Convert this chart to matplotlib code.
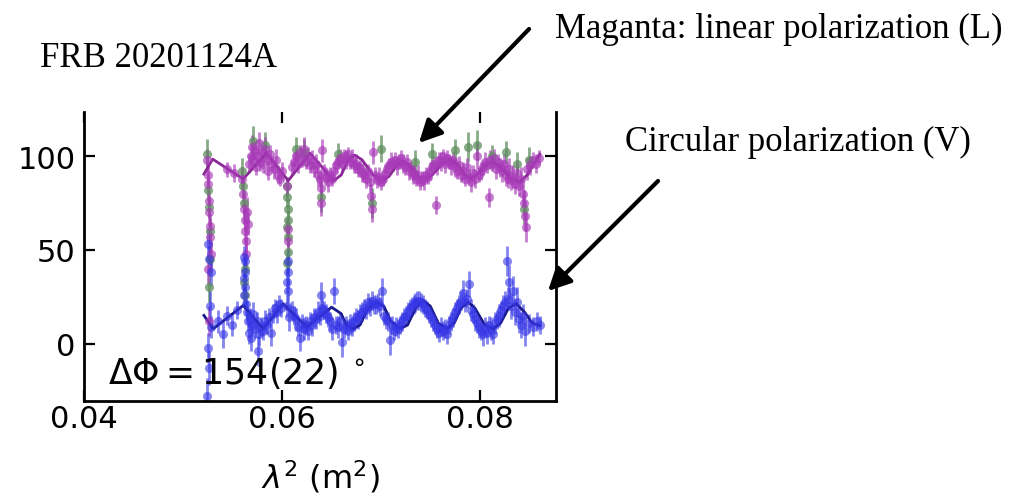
import numpy as np
import matplotlib
matplotlib.use('Agg')
import matplotlib.pyplot as plt
from matplotlib.patches import FancyArrowPatch

# (lambda^2 [m^2], percent, error)
L_points = [
    (0.0524, 98, 6), (0.0525, 90, 5), (0.0525, 85, 6), (0.0526, 76, 6), (0.0526, 70, 7),
    (0.0527, 63, 6), (0.0527, 57, 8), (0.0528, 48, 7), (0.0525, 40, 8), (0.0526, 12, 8),
    (0.0545, 93, 4), (0.0552, 91, 5),
    (0.0560, 88, 6), (0.0561, 80, 7), (0.0562, 72, 8), (0.0563, 66, 6), (0.0563, 60, 7),
    (0.0564, 55, 8), (0.0565, 70, 8), (0.0566, 64, 6), (0.0564, 48, 9),
    (0.0567, 96, 5), (0.0569, 100, 6), (0.0570, 105, 6), (0.0571, 98, 4), (0.0573, 103, 5),
    (0.0574, 94, 4), (0.0575, 100, 5), (0.0577, 107, 6), (0.0578, 97, 5), (0.0580, 102, 4),
    (0.0581, 96, 5), (0.0583, 104, 6), (0.0585, 99, 4), (0.0586, 92, 5), (0.0588, 101, 5),
    (0.0590, 96, 4), (0.0592, 93, 5), (0.0594, 98, 6), (0.0596, 90, 5), (0.0598, 88, 4),
    (0.0600, 92, 5),
    (0.0605, 84, 5), (0.0606, 61, 6), (0.0606, 55, 6),
    (0.0610, 94, 4), (0.0612, 97, 5), (0.0614, 100, 4), (0.0616, 96, 5), (0.0618, 102, 4),
    (0.0620, 99, 5), (0.0622, 104, 6), (0.0624, 97, 4), (0.0626, 100, 5), (0.0628, 95, 4),
    (0.0630, 98, 5), (0.0632, 93, 4), (0.0634, 96, 5), (0.0636, 90, 6), (0.0638, 88, 4),
    (0.0640, 83, 6), (0.0640, 75, 7), (0.0641, 103, 6), (0.0643, 92, 4),
    (0.0645, 89, 4), (0.0647, 86, 5), (0.0649, 90, 4), (0.0651, 88, 4), (0.0653, 92, 5),
    (0.0655, 95, 4), (0.0657, 97, 4), (0.0659, 99, 5), (0.0661, 96, 4), (0.0663, 100, 4),
    (0.0665, 98, 5), (0.0667, 101, 4), (0.0669, 97, 4), (0.0671, 99, 5), (0.0673, 95, 4),
    (0.0675, 96, 5), (0.0677, 93, 4), (0.0679, 94, 4), (0.0681, 91, 5), (0.0683, 90, 4),
    (0.0685, 88, 5), (0.0687, 92, 4), (0.0689, 86, 5), (0.0690, 79, 6), (0.0691, 72, 7),
    (0.0692, 102, 6), (0.0694, 90, 4), (0.0696, 87, 4), (0.0698, 89, 5),
    (0.0700, 86, 4), (0.0702, 88, 4), (0.0704, 91, 5), (0.0706, 93, 4), (0.0708, 95, 4),
    (0.0710, 97, 5), (0.0712, 96, 4), (0.0714, 98, 4), (0.0716, 95, 5), (0.0718, 97, 4),
    (0.0720, 99, 4), (0.0722, 96, 5), (0.0724, 94, 4), (0.0726, 97, 4), (0.0728, 92, 5),
    (0.0730, 93, 4), (0.0732, 90, 5), (0.0734, 91, 4), (0.0736, 88, 4), (0.0738, 90, 5),
    (0.0740, 86, 4), (0.0742, 88, 4), (0.0744, 87, 5), (0.0746, 90, 4), (0.0748, 89, 4),
    (0.0750, 92, 5), (0.0752, 94, 4), (0.0754, 96, 4), (0.0756, 74, 5), (0.0757, 95, 5),
    (0.0759, 98, 4), (0.0761, 97, 5), (0.0763, 100, 4), (0.0765, 96, 5), (0.0767, 99, 4),
    (0.0769, 97, 4), (0.0771, 95, 5), (0.0773, 98, 4), (0.0775, 94, 5), (0.0777, 92, 4),
    (0.0779, 95, 5), (0.0781, 90, 4), (0.0783, 92, 5), (0.0785, 88, 4), (0.0787, 94, 5),
    (0.0789, 89, 4), (0.0791, 86, 5), (0.0793, 91, 4), (0.0795, 88, 5), (0.0797, 100, 7),
    (0.0799, 90, 4),
    (0.0801, 92, 5), (0.0803, 94, 4), (0.0805, 97, 5), (0.0807, 95, 4), (0.0809, 78, 5),
    (0.0810, 98, 5), (0.0812, 96, 4), (0.0814, 99, 5), (0.0816, 93, 5), (0.0818, 97, 4),
    (0.0820, 94, 5), (0.0822, 92, 6), (0.0824, 96, 5), (0.0826, 90, 6), (0.0828, 88, 5),
    (0.0830, 93, 6), (0.0832, 87, 5), (0.0834, 89, 6), (0.0836, 85, 5), (0.0838, 91, 6),
    (0.0840, 84, 5), (0.0842, 88, 6), (0.0844, 80, 7), (0.0845, 75, 7), (0.0846, 68, 8),
    (0.0847, 62, 8), (0.0848, 93, 6), (0.0851, 95, 5), (0.0854, 98, 4), (0.0857, 96, 5),
    (0.0860, 99, 4),
]

G_points = [
    (0.0524, 101, 8), (0.0525, 82, 6), (0.0526, 73, 6), (0.0527, 60, 7), (0.0526, 30, 8),
    (0.0527, 45, 7),
    (0.0560, 92, 7), (0.0561, 84, 6), (0.0562, 75, 7), (0.0563, 40, 8), (0.0562, 33, 8),
    (0.0563, 26, 7),
    (0.0605, 84, 5), (0.0605, 78, 5), (0.0606, 72, 5), (0.0606, 66, 5), (0.0605, 62, 5),
    (0.0606, 57, 5), (0.0606, 49, 6), (0.0605, 43, 6),
    (0.0571, 108, 8), (0.0583, 106, 7), (0.0614, 104, 6), (0.0622, 102, 7), (0.0640, 78, 8),
    (0.0657, 101, 6), (0.0691, 75, 8), (0.0700, 104, 7), (0.0735, 97, 6), (0.0752, 101, 6),
    (0.0775, 103, 6), (0.0788, 105, 8), (0.0797, 106, 8), (0.0812, 100, 6), (0.0826, 102, 6),
    (0.0838, 96, 6), (0.0845, 72, 8), (0.0850, 98, 7),
]

V_points = [
    (0.0525, 53, 8), (0.0526, 45, 7), (0.0528, 38, 7), (0.0527, 20, 8), (0.0528, 9, 6),
    (0.0525, -2, 8), (0.0526, -13, 9), (0.0524, -28, 10),
    (0.0535, 12, 6), (0.0540, 5, 7), (0.0545, 15, 5), (0.0550, 10, 6), (0.0555, 18, 5),
    (0.0562, 46, 6), (0.0563, 44, 6), (0.0563, 38, 6), (0.0562, 35, 7), (0.0563, 30, 6),
    (0.0562, 26, 6), (0.0564, 21, 6),
    (0.0565, 17, 6), (0.0566, 12, 5), (0.0567, 6, 6), (0.0568, 14, 5), (0.0569, 3, 7),
    (0.0570, 10, 5), (0.0571, 16, 6), (0.0573, 8, 5), (0.0575, 12, 5), (0.0576, -4, 8),
    (0.0577, 5, 6), (0.0579, 9, 5), (0.0581, 7, 5), (0.0583, 12, 6), (0.0585, 10, 5),
    (0.0587, 14, 5), (0.0589, 6, 7), (0.0591, 16, 5), (0.0593, 19, 5), (0.0595, 17, 6),
    (0.0597, 21, 5), (0.0599, 19, 5),
    (0.0606, 44, 6), (0.0606, 38, 6), (0.0605, 33, 6), (0.0606, 28, 6), (0.0605, 20, 6),
    (0.0607, 14, 7),
    (0.0610, 18, 5), (0.0612, 15, 5), (0.0614, 13, 6), (0.0616, 9, 5), (0.0618, 3, 7),
    (0.0620, 11, 5), (0.0622, 8, 6), (0.0624, 10, 5), (0.0626, 7, 5), (0.0628, 12, 5),
    (0.0630, 10, 6), (0.0632, 14, 5), (0.0634, 13, 5), (0.0636, 17, 6), (0.0638, 15, 5),
    (0.0640, 26, 7), (0.0641, 19, 5), (0.0643, 18, 5),
    (0.0645, 16, 5), (0.0647, 14, 5), (0.0649, 12, 5), (0.0651, 8, 6), (0.0653, 28, 7),
    (0.0655, 10, 5), (0.0657, 9, 6), (0.0659, 12, 5), (0.0661, 1, 8), (0.0663, 8, 5),
    (0.0665, 10, 5), (0.0667, 7, 5), (0.0669, 11, 5), (0.0671, 9, 5), (0.0673, 12, 5),
    (0.0675, 14, 5), (0.0677, 13, 5), (0.0679, 16, 5), (0.0681, 17, 5), (0.0683, 19, 5),
    (0.0685, 18, 5), (0.0687, 22, 5), (0.0689, 20, 5), (0.0691, 23, 5), (0.0693, 21, 5),
    (0.0695, 21, 5), (0.0697, 22, 5), (0.0699, 20, 5),
    (0.0701, 28, 7), (0.0703, 15, 5), (0.0705, 13, 5), (0.0707, 12, 5), (0.0709, 2, 8),
    (0.0711, 10, 5), (0.0713, 7, 5), (0.0715, 9, 5), (0.0717, 8, 5), (0.0719, 10, 5),
    (0.0721, 12, 5), (0.0723, 14, 5), (0.0725, 15, 5), (0.0727, 17, 5), (0.0729, 19, 5),
    (0.0731, 20, 5), (0.0733, 21, 5), (0.0735, 22, 5), (0.0737, 23, 5), (0.0739, 23, 5),
    (0.0741, 22, 5), (0.0743, 21, 5), (0.0745, 19, 5), (0.0747, 18, 5), (0.0749, 16, 5),
    (0.0751, 14, 5), (0.0753, 12, 5), (0.0755, 10, 5), (0.0757, 8, 5), (0.0759, 6, 5),
    (0.0761, 9, 5), (0.0763, 7, 5), (0.0765, 8, 5), (0.0767, 5, 5), (0.0769, 10, 5),
    (0.0771, 12, 5), (0.0773, 14, 5), (0.0775, 17, 5), (0.0777, 19, 5), (0.0779, 21, 5),
    (0.0781, 23, 5), (0.0783, 27, 7), (0.0785, 22, 5), (0.0787, 24, 5), (0.0789, 32, 7),
    (0.0791, 18, 6), (0.0793, 16, 5), (0.0795, 13, 6), (0.0797, 11, 5), (0.0799, 9, 6),
    (0.0801, 7, 5), (0.0803, 5, 6), (0.0805, 9, 5), (0.0807, 6, 6), (0.0809, 10, 5),
    (0.0811, 8, 6), (0.0813, 5, 5), (0.0815, 11, 6), (0.0817, 13, 5), (0.0819, 15, 6),
    (0.0821, 18, 5), (0.0823, 20, 6), (0.0825, 22, 6), (0.0827, 44, 8), (0.0828, 24, 6),
    (0.0830, 33, 9), (0.0832, 20, 7), (0.0834, 28, 8), (0.0836, 17, 7), (0.0838, 22, 8),
    (0.0840, 13, 7), (0.0842, 10, 7), (0.0844, 15, 6), (0.0846, 7, 8), (0.0850, 11, 5),
    (0.0854, 9, 5), (0.0858, 12, 5), (0.0861, 10, 5),
]

# model curves
model_L_lam2 = [0.05212, 0.0530, 0.05609, 0.05843, 0.06064, 0.06283, 0.06525, 0.0660,
                0.0667, 0.06737, 0.0681, 0.0692, 0.07007, 0.0708, 0.0716, 0.07222,
                0.0729, 0.0738, 0.07444, 0.0752, 0.0762, 0.07697, 0.0777, 0.0785,
                0.07899, 0.0797, 0.0805, 0.08118, 0.0819, 0.0832, 0.08404, 0.0848, 0.08606]
model_L = [90.4, 98.4, 87.8, 101.6, 86.9, 101.6, 86.9, 90,
           98, 100.5, 98, 90, 87.2, 89, 95, 97.5,
           95, 89, 87.8, 90, 96, 98.4, 96, 90,
           87.8, 90, 95, 96.8, 95, 88, 86.2, 90, 101.0]
model_V_lam2 = [0.05212, 0.05306, 0.05609, 0.05811, 0.06013, 0.06250, 0.06502, 0.0660,
                0.0665, 0.06720, 0.0679, 0.0686, 0.06957, 0.0703, 0.0710, 0.07192,
                0.0727, 0.0735, 0.07427, 0.0750, 0.0758, 0.07664, 0.0774, 0.0781,
                0.07882, 0.0795, 0.0805, 0.08134, 0.0821, 0.0829, 0.08370, 0.0845,
                0.0853, 0.08606]
model_V = [15.1, 8.0, 20.4, 8.0, 21.3, 8.9, 19.5, 16,
           10, 8.0, 10, 18, 22.2, 20, 12, 8.0,
           10, 19, 23.0, 20, 11, 8.0, 11, 19,
           22.2, 19, 10, 8.0, 11, 19, 21.3, 17,
           11, 9.7]

xticks = [0.04, 0.06, 0.08]
xticklabels = ['0.04', '0.06', '0.08']
yticks = [0, 50, 100]

W, H = 1013, 502
fig = plt.figure(figsize=(W / 100, H / 100), dpi=100)
ax = fig.add_axes([84 / W, 1 - 402 / H, (556 - 84) / W, (402 - 113) / H])


def draw(points, color, alpha):
    arr = np.array(points, dtype=float)
    ax.errorbar(arr[:, 0], arr[:, 1], yerr=arr[:, 2], fmt='o', color=color,
                ms=6.5, elinewidth=2.0, capsize=0, alpha=alpha, mec='none')


draw(G_points, '#5f8f5f', 0.75)
draw(L_points, '#a83ab8', 0.65)
draw(V_points, '#3535e6', 0.6)
ax.plot(model_L_lam2, model_L, color='#8a2896', lw=2.0)
ax.plot(model_V_lam2, model_V, color='#1a1a8c', lw=2.0)

ax.set_xlim(0.04, 0.0877)
ax.set_ylim(-30.5, 123.5)
ax.set_xticks(xticks)
ax.set_xticklabels(xticklabels)
ax.set_yticks(yticks)
ax.tick_params(direction='in', length=8, width=1.6, labelsize=22,
               top=True, right=True, pad=6)
ax.tick_params(axis='x', pad=2)
ax.spines['top'].set_visible(False)
for s in ['left', 'right', 'bottom']:
    ax.spines[s].set_linewidth(2.0)
ax.set_xlabel(r'$\lambda^2$ (m$^2$)', fontsize=23, labelpad=18)
ax.text(0.0424, -21, r'$\Delta\Phi = 154(22)\ ^{\circ}$', fontsize=25)

serif = 'Liberation Serif'
fig.text(40 / W, 1 - 67 / H, 'FRB 20201124A', family=serif, fontsize=25)
fig.text(555 / W, 1 - 38 / H, 'Maganta: linear polarization (L)', family=serif, fontsize=25)
fig.text(625 / W, 1 - 151 / H, 'Circular polarization (V)', family=serif, fontsize=25)

arrow = dict(arrowstyle='-|>', lw=3, color='black', mutation_scale=34)
fig.patches.append(FancyArrowPatch(
    (531 / W, 1 - 28 / H), (417 / W, 1 - 146 / H), transform=fig.transFigure, **arrow))
fig.patches.append(FancyArrowPatch(
    (660 / W, 1 - 180 / H), (546 / W, 1 - 294 / H), transform=fig.transFigure, **arrow))

plt.savefig('out.png', dpi=100)
plt.close()
